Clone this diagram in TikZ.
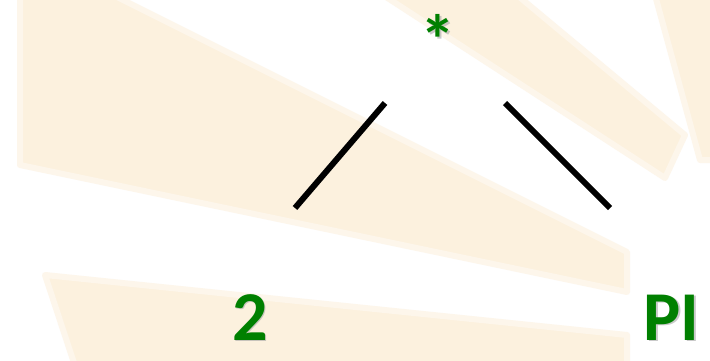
\documentclass[tikz,border=0pt]{standalone}
\usepackage{fontspec}
\setmainfont{Carlito}
\definecolor{beige}{RGB}{252,241,222}
\definecolor{beigesoft}{RGB}{253,246,235}
\definecolor{lblgreen}{RGB}{0,128,0}
\tikzset{
  band/.style={fill=beige, draw=beigesoft, line width=6pt, line join=round},
  lbl/.style={text=lblgreen, font=\bfseries\fontsize{70}{70}\selectfont, inner sep=0pt, anchor=base},
  shade/.style={text=black!35, font=\bfseries\fontsize{70}{70}\selectfont, inner sep=0pt, anchor=base, opacity=0.6},
  edge/.style={line width=6pt, black, line cap=butt}
}
\begin{document}
\begin{tikzpicture}[x=1pt,y=-1pt]
\useasboundingbox (0,0) rectangle (710,361);
\fill[white] (0,0) rectangle (710,361);
% background rays
\filldraw[band] (20,-5) -- (113,-5) -- (627,252) -- (627,292) -- (20,165) -- cycle;
\filldraw[band] (383,-5) -- (517,-5) -- (685,135) -- (665,178) -- cycle;
\filldraw[band] (655,-5) -- (715,-5) -- (715,160) -- (700,160) -- cycle;
\filldraw[band] (45,275) -- (627,335) -- (627,366) -- (75,366) -- cycle;
% shadows
\node[shade] at (439.5,66.5) {*};
\node[shade] at (251.5,341.5) {2};
\node[shade] at (673,341.5) {PI};
% labels
\node[lbl] (star) at (438,65) {*};
\node[lbl] (two) at (250,340) {2};
\node[lbl] (pi) at (671.5,340) {PI};
% connector ends
\coordinate (l1) at (385,103);
\coordinate (l2) at (295,208);
\coordinate (r1) at (505,103);
\coordinate (r2) at (610,208);
\draw[edge] (l1) -- (l2);
\draw[edge] (r1) -- (r2);
\end{tikzpicture}
\end{document}
